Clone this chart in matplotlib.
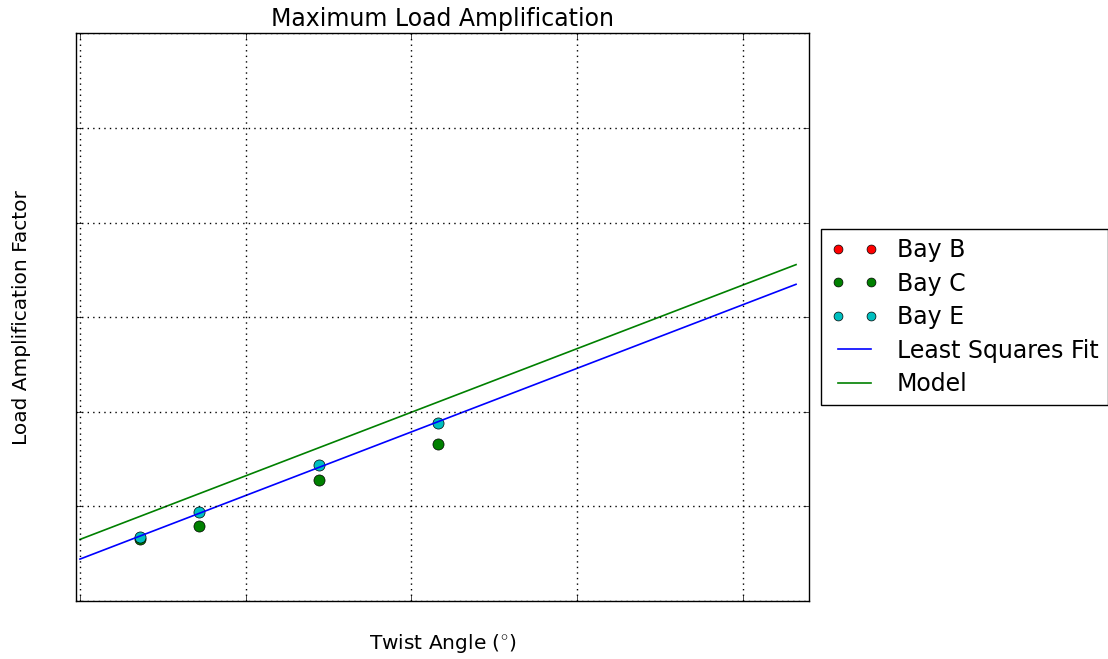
import matplotlib
matplotlib.use("Agg")
import matplotlib.pyplot as plt
import numpy as np

plt.style.use("classic")

# Twist angle (deg) of each test case
twist = [1.8, 3.6, 7.2, 10.8]

# Measured load amplification per bay
bay_b = []
bay_c = [1.066, 1.0795, 1.1275, 1.1659]
bay_e = [1.0673, 1.0937, 1.1437, 1.1884]

# Straight-line fits over the plotted angle range
fit_x = [0.0, 21.6]
lsq_y = [1.0443, 1.3347]
model_y = [1.0651, 1.3555]

x_ticks = [0, 5, 10, 15, 20]
y_ticks = [1.0, 1.1, 1.2, 1.3, 1.4, 1.5, 1.6]

fig = plt.figure(figsize=(11.08, 6.59), dpi=100)
fig.patch.set_facecolor("white")
ax = fig.add_axes([0.0689, 0.088, 0.6615, 0.8615])

ax.plot(twist[:len(bay_b)], bay_b, "o", color="r", markersize=8, label="Bay B")
ax.plot(twist, bay_c, "o", color="g", markersize=8, label="Bay C")
ax.plot(twist, bay_e, "o", color="c", markersize=8, label="Bay E")
ax.plot(fit_x, lsq_y, "-", color="b", linewidth=1.2, label="Least Squares Fit")
ax.plot(fit_x, model_y, "-", color="g", linewidth=1.2, label="Model")

ax.set_xlim(-0.11, 22.0)
ax.set_ylim(1.0, 1.6)
ax.set_xticks(x_ticks)
ax.set_yticks(y_ticks)
ax.set_xticklabels([])
ax.set_yticklabels([])
ax.grid(True, color="black", linestyle=":", linewidth=1.0)

ax.set_title("Maximum Load Amplification", fontsize=17)
ax.set_xlabel(r"Twist Angle ($^{\circ}$)", fontsize=14.5)
ax.set_ylabel("Load Amplification Factor", fontsize=14.5)
ax.xaxis.set_label_coords(0.5, -0.055)
ax.yaxis.set_label_coords(-0.062, 0.5)

ax.legend(loc="center left", bbox_to_anchor=(1.0, 0.5), numpoints=2,
          fontsize=17, frameon=True, labelspacing=0.4, borderpad=0.4,
          markerscale=0.8)

fig.savefig("out.png", dpi=100, facecolor="white")
